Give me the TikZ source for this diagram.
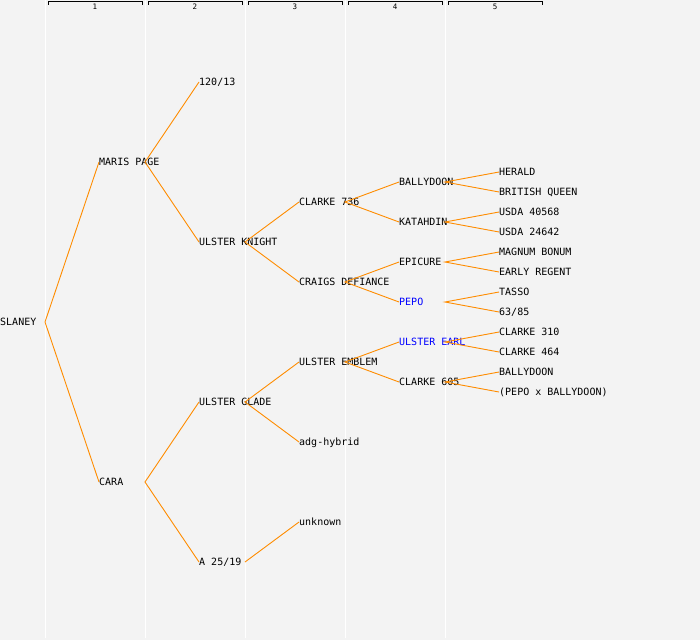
\documentclass[tikz,border=0pt]{standalone}
\usepackage{fontspec}
\setmonofont{DejaVu Sans Mono}
\usepackage{xcolor}
\usepackage{tikz}
\usetikzlibrary{positioning, calc}

\definecolor{bgray}{HTML}{F3F3F3}
\definecolor{lineorange}{HTML}{FF8C00}
\definecolor{nameblue}{HTML}{0000FF}

\tikzset{
    pnode/.style={anchor=west, inner sep=0pt, text height=7.3pt, text depth=0pt,
        font=\fontsize{10}{10}\selectfont\ttfamily},
    bluenode/.style={pnode, text=nameblue},
    edge/.style={draw=lineorange, line width=0.9pt},
    gencol/.style={draw=white, line width=1pt},
    genbrace/.style={draw=black, line width=1pt},
    genlabel/.style={inner sep=0pt, font=\fontsize{7.5}{7.5}\selectfont\ttfamily}
}

\begin{document}
\begin{tikzpicture}[x=1pt, y=-1pt]
        % draw the background
        \fill [bgray] (0,0) rectangle (700,640);
        \useasboundingbox (0,0) rectangle (700,640);

        % generation columns
        \foreach \g in {1,...,5} {
            \draw [gencol] (\g*100-55,0) -- (\g*100-55,638);
            \draw [genbrace] (\g*100-52,4.5) -- (\g*100-52,1.5) -- (\g*100+42,1.5) -- (\g*100+42,4.5);
            \node [genlabel] (gen\g) at (\g*100-5,7) {\g};
        }

        % generation 0 and 1
        \node[pnode] (slaney) at (0,322) {SLANEY};
        \node[pnode] (marispage) at (99,162) {MARIS PAGE};
        \node[pnode] (cara) at (99,482) {CARA};

        % generation 2
        \node[pnode] (c12013) at (199,82) {120/13};
        \node[pnode] (ulsterknight) at (199,242) {ULSTER KNIGHT};
        \node[pnode] (ulsterglade) at (199,402) {ULSTER GLADE};
        \node[pnode] (a2519) at (199,562) {A 25/19};

        % generation 3
        \node[pnode] (clarke736) at (299,202) {CLARKE 736};
        \node[pnode] (craigsdef) at (299,282) {CRAIGS DEFIANCE};
        \node[pnode] (ulsteremblem) at (299,362) {ULSTER EMBLEM};
        \node[pnode] (adghybrid) at (299,442) {adg-hybrid};
        \node[pnode] (unknown) at (299,522) {unknown};

        % generation 4
        \node[pnode] (ballydoon) at (399,182) {BALLYDOON};
        \node[pnode] (katahdin) at (399,222) {KATAHDIN};
        \node[pnode] (epicure) at (399,262) {EPICURE};
        \node[bluenode] (pepo) at (399,302) {PEPO};
        \node[bluenode] (ulsterearl) at (399,342) {ULSTER EARL};
        \node[pnode] (clarke605) at (399,382) {CLARKE 605};

        % generation 5
        \node[pnode] (herald) at (499,172) {HERALD};
        \node[pnode] (britishqueen) at (499,192) {BRITISH QUEEN};
        \node[pnode] (usda40568) at (499,212) {USDA 40568};
        \node[pnode] (usda24642) at (499,232) {USDA 24642};
        \node[pnode] (magnumbonum) at (499,252) {MAGNUM BONUM};
        \node[pnode] (earlyregent) at (499,272) {EARLY REGENT};
        \node[pnode] (tasso) at (499,292) {TASSO};
        \node[pnode] (p6385) at (499,312) {63/85};
        \node[pnode] (clarke310) at (499,332) {CLARKE 310};
        \node[pnode] (clarke464) at (499,352) {CLARKE 464};
        \node[pnode] (ballydoonb) at (499,372) {BALLYDOON};
        \node[pnode] (pepoxbally) at (499,392) {(PEPO x BALLYDOON)};

        % the pedigree lines
        \draw [edge] (marispage.west) -- ([xshift=45pt]slaney.west) -- (cara.west);
        \draw [edge] (c12013.west) -- ([xshift=46pt]marispage.west) -- (ulsterknight.west);
        \draw [edge] (ulsterglade.west) -- ([xshift=46pt]cara.west) -- (a2519.west);
        \draw [edge] (clarke736.west) -- ([xshift=46pt]ulsterknight.west) -- (craigsdef.west);
        \draw [edge] (ulsteremblem.west) -- ([xshift=46pt]ulsterglade.west) -- (adghybrid.west);
        \draw [edge] ([xshift=46pt]a2519.west) -- (unknown.west);
        \draw [edge] (ballydoon.west) -- ([xshift=46pt]clarke736.west) -- (katahdin.west);
        \draw [edge] (epicure.west) -- ([xshift=46pt]craigsdef.west) -- (pepo.west);
        \draw [edge] (ulsterearl.west) -- ([xshift=46pt]ulsteremblem.west) -- (clarke605.west);
        \draw [edge] (herald.west) -- ([xshift=46pt]ballydoon.west) -- (britishqueen.west);
        \draw [edge] (usda40568.west) -- ([xshift=46pt]katahdin.west) -- (usda24642.west);
        \draw [edge] (magnumbonum.west) -- ([xshift=46pt]epicure.west) -- (earlyregent.west);
        \draw [edge] (tasso.west) -- ([xshift=46pt]pepo.west) -- (p6385.west);
        \draw [edge] (clarke310.west) -- ([xshift=46pt]ulsterearl.west) -- (clarke464.west);
        \draw [edge] (ballydoonb.west) -- ([xshift=46pt]clarke605.west) -- (pepoxbally.west);
    \end{tikzpicture}
\end{document}
